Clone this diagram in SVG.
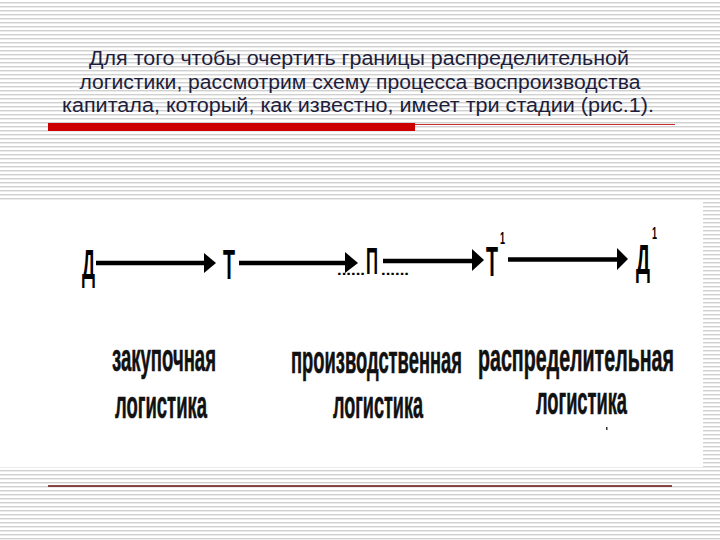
<svg xmlns="http://www.w3.org/2000/svg" width="720" height="540" viewBox="0 0 720 540">
  <defs>
    <pattern id="stripes" x="0" y="0" width="8" height="4" patternUnits="userSpaceOnUse">
      <rect x="0" y="0" width="8" height="4" fill="#ffffff"/>
      <rect x="0" y="2" width="8" height="1.4" fill="#d0d0d0"/>
    </pattern>
    <style>
      .title { font-family: "Liberation Sans", Arial, sans-serif; font-size: 20px; fill: #1e1e3c; text-anchor: middle; }
      .glyph { font-family: "Liberation Sans", Arial, sans-serif; font-weight: bold; fill: #000; }
      .lbl { font-family: "Liberation Sans", Arial, sans-serif; font-weight: bold; font-size: 39px; fill: #111; stroke: #111; stroke-width: 0.6; }
      .shaft { stroke: #000; stroke-width: 4.5; fill: none; }
      .head { fill: #000; }
    </style>
  </defs>

  <!-- background -->
  <rect x="0" y="0" width="720" height="540" fill="url(#stripes)"/>
  <rect x="0" y="202" width="703" height="265" fill="#ffffff"/>

  <!-- title -->
  <g id="title">
    <text class="title" x="359" y="65" textLength="540" lengthAdjust="spacingAndGlyphs">Для того чтобы очертить границы распределительной</text>
    <text class="title" x="360" y="89" textLength="561" lengthAdjust="spacingAndGlyphs">логистики, рассмотрим схему процесса воспроизводства</text>
    <text class="title" x="358" y="112" textLength="592" lengthAdjust="spacingAndGlyphs">капитала, который, как известно, имеет три стадии (рис.1).</text>
  </g>

  <!-- decorative rules -->
  <g id="rules">
    <rect x="48" y="123" width="367" height="8" fill="#cc0000"/>
    <line x1="415" y1="124.5" x2="675" y2="124.5" stroke="#c83030" stroke-width="1"/>
    <line x1="48" y1="486" x2="672" y2="486" stroke="#6a1010" stroke-width="1.5"/>
  </g>

  <!-- connectors -->
  <g id="connectors">
    <line class="shaft" x1="96" y1="263" x2="206" y2="263"/>
    <path class="head" d="M204,253 L216,263 L204,273 Z"/>
    <line class="shaft" x1="239" y1="263" x2="347" y2="263"/>
    <path class="head" d="M345,252 L358,263 L345,273 Z"/>
    <line class="shaft" x1="383" y1="261" x2="474" y2="261"/>
    <path class="head" d="M472,249 L484,260 L472,271 Z"/>
    <line class="shaft" x1="508" y1="259.5" x2="619" y2="259.5"/>
    <path class="head" d="M617,248 L628,259 L617,270 Z"/>
  </g>

  <!-- nodes -->
  <g id="node-D">
    <text class="glyph" x="82" y="279" font-size="42" textLength="13" lengthAdjust="spacingAndGlyphs">Д</text>
  </g>
  <g id="node-T">
    <text class="glyph" x="223" y="279" font-size="42" textLength="12" lengthAdjust="spacingAndGlyphs">Т</text>
  </g>
  <g id="node-P">
    <text class="glyph" x="337" y="275" font-size="14" textLength="28" lengthAdjust="spacingAndGlyphs">......</text>
    <text class="glyph" x="366" y="274" font-size="36" textLength="12" lengthAdjust="spacingAndGlyphs">П</text>
    <text class="glyph" x="381" y="275" font-size="14" textLength="28" lengthAdjust="spacingAndGlyphs">......</text>
  </g>
  <g id="node-T1">
    <text class="glyph" x="486" y="276" font-size="42" textLength="12" lengthAdjust="spacingAndGlyphs">Т</text>
    <text class="glyph" x="500" y="244" font-size="17" textLength="5" lengthAdjust="spacingAndGlyphs">1</text>
  </g>
  <g id="node-D1">
    <text class="glyph" x="636" y="274" font-size="42" textLength="14" lengthAdjust="spacingAndGlyphs">Д</text>
    <text class="glyph" x="652" y="239" font-size="17" textLength="5" lengthAdjust="spacingAndGlyphs">1</text>
  </g>

  <!-- stage labels -->
  <g id="label-purchase">
    <text class="lbl" x="112" y="371" textLength="104" lengthAdjust="spacingAndGlyphs">закупочная</text>
    <text class="lbl" x="115" y="418" textLength="92" lengthAdjust="spacingAndGlyphs">логистика</text>
  </g>
  <g id="label-production">
    <text class="lbl" x="291" y="373" textLength="171" lengthAdjust="spacingAndGlyphs">производственная</text>
    <text class="lbl" x="333" y="418" textLength="90" lengthAdjust="spacingAndGlyphs">логистика</text>
  </g>
  <g id="label-distribution">
    <text class="lbl" x="478" y="371" textLength="196" lengthAdjust="spacingAndGlyphs">распределительная</text>
    <text class="lbl" x="536" y="414" textLength="91" lengthAdjust="spacingAndGlyphs">логистика</text>
  </g>
  <rect x="606" y="427" width="1.5" height="3" fill="#333"/>
</svg>
